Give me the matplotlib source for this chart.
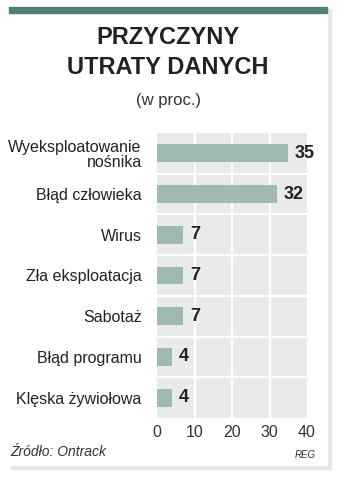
import numpy as np
import matplotlib
matplotlib.use("Agg")
from matplotlib import pyplot as plt
from matplotlib.patches import Rectangle

# data
categories = ["Wyeksploatowanie\nnośnika", "Błąd człowieka", "Wirus", "Zła eksploatacja",
              "Sabotaż", "Błąd programu", "Klęska żywiołowa"]
values = [35, 32, 7, 7, 7, 4, 4]
xticks = [0, 10, 20, 30, 40]

W, H = 345, 480
fig = plt.figure(figsize=(W / 100, H / 100), dpi=100)
fig.patch.set_facecolor("white")

def px(x0, y0, x1, y1):
    # pixel box (top-left origin) -> figure fraction
    return [x0 / W, 1 - y1 / H, (x1 - x0) / W, (y1 - y0) / H]

# card shadow + card + teal top strip
bg = fig.add_axes([0, 0, 1, 1])
bg.set_xlim(0, W)
bg.set_ylim(H, 0)
bg.axis("off")
bg.add_patch(Rectangle((11, 9), 320, 460, color="#e6e6e6", zorder=0))
bg.add_patch(Rectangle((9, 7), 318, 458, color="white", zorder=1))
bg.add_patch(Rectangle((9, 7), 318, 6, color="#4e8278", zorder=2))

reg = ["Liberation Sans", "DejaVu Sans"]
bg.text(168, 38, "PRZYCZYNY", ha="center", va="center", fontsize=17, fontweight="bold",
        family=reg, color="#222222", zorder=3)
bg.text(168, 68, "UTRATY DANYCH", ha="center", va="center", fontsize=17, fontweight="bold",
        family=reg, color="#222222", zorder=3)
bg.text(168, 101, "(w proc.)", ha="center", va="center", fontsize=12,
        family=reg, color="#333333", zorder=3)
bg.text(10, 452, "Źródło: Ontrack", ha="left", va="center", fontsize=10, style="italic",
        family=reg, color="#333333", zorder=3)
bg.text(316, 455, "REG", ha="right", va="center", fontsize=7, style="italic",
        family=reg, color="#333333", zorder=3)

# bar chart
ax = fig.add_axes(px(157, 133, 307, 418))
ax.set_facecolor("#e8ebe8")
y = np.arange(len(values))
ax.barh(y, values, height=0.44, color="#9fbab1", zorder=2)
ax.set_xlim(0, 40)
ax.set_ylim(len(values) - 0.5, -0.5)
for v in [10, 20, 30]:
    ax.axvline(v, color="white", lw=1.6, zorder=1)
for b in np.arange(0.5, len(values) - 1, 1):
    ax.axhline(b, color="white", lw=1.6, zorder=1)
for s in ax.spines.values():
    s.set_visible(False)
ax.set_xticks(xticks)
ax.set_xticklabels([str(t) for t in xticks], family=reg, fontsize=11.5, color="#333333")
ax.tick_params(axis="x", length=0, pad=5)
ax.set_yticks(y)
ax.set_yticklabels(categories, family=reg, fontsize=11.5, color="#222222",
                   linespacing=1.0)
ax.tick_params(axis="y", length=0, pad=11)
for yi, v in zip(y, values):
    ax.text(v + 1.8, yi, str(v), ha="left", va="center", fontsize=13, fontweight="bold",
            family=reg, color="#222222", zorder=3)

fig.savefig("out.png", dpi=100)
